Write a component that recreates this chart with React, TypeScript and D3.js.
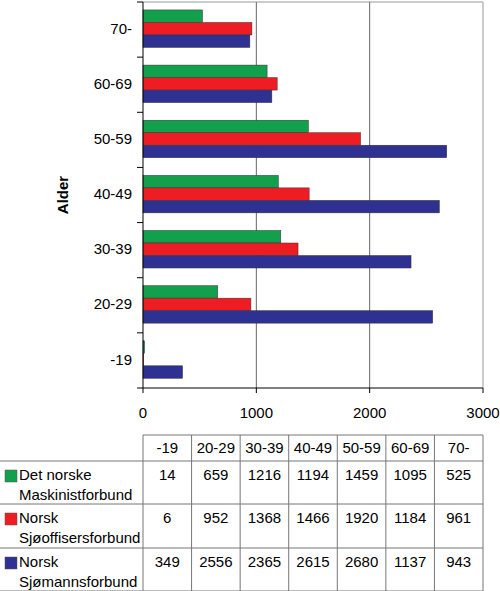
import * as d3 from "d3";
import { useEffect, useRef } from "react";

// age groups, bottom to top in the chart
const ageGroups = ["-19", "20-29", "30-39", "40-49", "50-59", "60-69", "70-"];
const seriesNames = [
  ["Det norske", "Maskinistforbund"],
  ["Norsk", "Sjøoffisersforbund"],
  ["Norsk", "Sjømannsforbund"],
];
const maskinist = [14, 659, 1216, 1194, 1459, 1095, 525];
const sjooffiser = [6, 952, 1368, 1466, 1920, 1184, 961];
const sjomann = [349, 2556, 2365, 2615, 2680, 1137, 943];
const colors = ["#12a04c", "#ee1d24", "#2e3192"];
const xTicks = [0, 1000, 2000, 3000];

export default function App() {
  const ref = useRef<SVGSVGElement>(null);

  useEffect(() => {
    const W = 500;
    const H = 591;
    const svg = d3.select(ref.current).attr("width", W).attr("height", H);
    svg.selectAll("*").remove();
    const font = "Arial, 'Liberation Sans', sans-serif";
    const series = [maskinist, sjooffiser, sjomann];

    const left = 143, right = 483, top = 2, bottom = 388;
    const x = d3.scaleLinear().domain([0, 3000]).range([left, right]);
    // top category first on screen
    const y = d3.scaleBand().domain([...ageGroups].reverse()).range([top, bottom])
      .paddingInner(0.32).paddingOuter(0.16).align(0.45);
    const sub = d3.scaleBand<number>().domain([0, 1, 2]).range([0, y.bandwidth()]);

    // frame top/right
    svg.append("line").attr("x1", left).attr("x2", right).attr("y1", top).attr("y2", top)
      .attr("stroke", "#bbb").attr("stroke-width", 1.5);

    // gridlines
    svg.append("g").selectAll("line").data(xTicks.slice(1)).enter().append("line")
      .attr("x1", d => x(d)).attr("x2", d => x(d))
      .attr("y1", top).attr("y2", bottom)
      .attr("stroke", d => (d === 3000 ? "#bbb" : "#666"))
      .attr("stroke-width", d => (d === 3000 ? 1.5 : 1));

    // bars
    const groups = svg.append("g").selectAll("g").data(ageGroups).enter().append("g")
      .attr("transform", d => `translate(0, ${y(d)})`);
    groups.selectAll("rect")
      .data((d, i) => series.map((s, k) => ({ k, v: s[i] })))
      .enter().append("rect")
      .attr("x", x(0))
      .attr("y", d => sub(d.k)!)
      .attr("width", d => x(d.v) - x(0))
      .attr("height", sub.bandwidth())
      .attr("fill", d => colors[d.k])
      .attr("stroke", "#333")
      .attr("stroke-width", 0.5);

    // y axis
    const yAx = svg.append("g");
    yAx.append("line").attr("x1", left).attr("x2", left).attr("y1", top).attr("y2", bottom)
      .attr("stroke", "#000");
    const step = y.step();
    d3.range(ageGroups.length + 1).forEach(i => {
      const yy = top + i * step;
      yAx.append("line").attr("x1", left - 6).attr("x2", left).attr("y1", yy).attr("y2", yy)
        .attr("stroke", "#000");
    });
    yAx.selectAll("text").data(ageGroups).enter().append("text")
      .attr("x", 132)
      .attr("y", d => y(d)! + y.bandwidth() / 2 + 5)
      .attr("text-anchor", "end")
      .attr("font-family", font).attr("font-size", 15)
      .text(d => d);

    svg.append("text")
      .attr("transform", `translate(68, 195) rotate(-90)`)
      .attr("text-anchor", "middle")
      .attr("font-family", font).attr("font-size", 15).attr("font-weight", "bold")
      .text("Alder");

    // x axis
    const xAx = svg.append("g");
    xAx.append("line").attr("x1", left).attr("x2", right).attr("y1", bottom).attr("y2", bottom)
      .attr("stroke", "#000");
    xTicks.forEach(t => {
      xAx.append("line").attr("x1", x(t)).attr("x2", x(t)).attr("y1", bottom).attr("y2", bottom + 5)
        .attr("stroke", "#000");
      xAx.append("text").attr("x", x(t)).attr("y", 418).attr("text-anchor", "middle")
        .attr("font-family", font).attr("font-size", 15).text(String(t));
    });

    // data table
    const tbl = svg.append("g");
    const colX = d3.scaleBand().domain(ageGroups).range([left, right]);
    const rowTop = [435, 461, 504, 548, 591];
    const lc = "#777";
    // horizontal lines
    tbl.append("line").attr("x1", left).attr("x2", right).attr("y1", rowTop[0]).attr("y2", rowTop[0])
      .attr("stroke", lc);
    rowTop.slice(1).forEach(r => {
      tbl.append("line").attr("x1", 0).attr("x2", right).attr("y1", r).attr("y2", r)
        .attr("stroke", lc);
    });
    // vertical lines
    [...ageGroups.map(a => colX(a)!), right].forEach(cx => {
      tbl.append("line").attr("x1", cx).attr("x2", cx).attr("y1", rowTop[0]).attr("y2", H)
        .attr("stroke", lc);
    });
    // header
    tbl.selectAll("text.h").data(ageGroups).enter().append("text")
      .attr("x", d => colX(d)! + colX.bandwidth() / 2).attr("y", 453)
      .attr("text-anchor", "middle").attr("font-family", font).attr("font-size", 15)
      .text(d => d);
    // rows
    series.forEach((s, k) => {
      const base = rowTop[k + 1] + 19;
      tbl.append("rect").attr("x", 5).attr("y", base - 10).attr("width", 12).attr("height", 12)
        .attr("fill", colors[k]).attr("stroke", "#555").attr("stroke-width", 0.5);
      seriesNames[k].forEach((line, j) => {
        tbl.append("text").attr("x", 19).attr("y", base + j * 20)
          .attr("font-family", font).attr("font-size", 15).text(line);
      });
      s.forEach((v, i) => {
        tbl.append("text").attr("x", colX(ageGroups[i])! + colX.bandwidth() / 2).attr("y", base)
          .attr("text-anchor", "middle").attr("font-family", font).attr("font-size", 15)
          .text(String(v));
      });
    });
  }, []);

  return (
    <div style={{ position: "absolute", left: 0, top: 0 }}>
      <svg ref={ref} style={{ display: "block" }}></svg>
    </div>
  );
}
